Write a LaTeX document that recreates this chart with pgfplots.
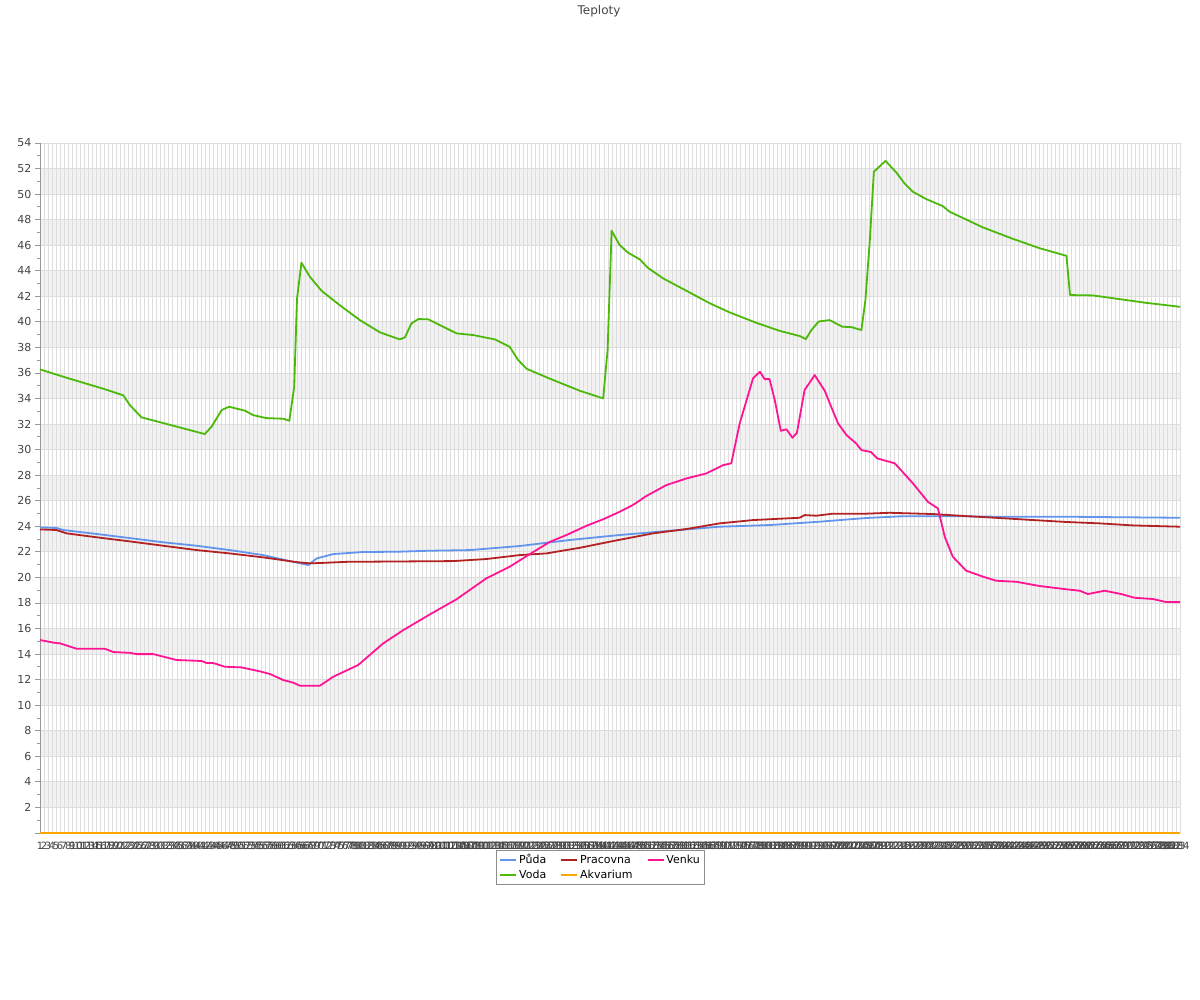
\documentclass[border=0pt]{standalone}
\usepackage{fontspec}
\setmainfont{DejaVu Sans}
\usepackage{pgfplots}
\pgfplotsset{compat=1.18}
\definecolor{cPuda}{HTML}{6495ED}
\definecolor{cVoda}{HTML}{4CB80A}
\definecolor{cPrac}{HTML}{B22222}
\definecolor{cAkv}{HTML}{FFA500}
\definecolor{cVenku}{HTML}{FF1493}
\definecolor{band}{HTML}{F2F2F2}
\definecolor{gridc}{HTML}{DDDDDD}
\definecolor{txt}{HTML}{444444}
\begin{document}
\begin{tikzpicture}
\begin{axis}[
  at={(0pt,0pt)}, anchor=south west,
  scale only axis, width=1140pt, height=690pt,
  set layers, clip=false,
  xmin=1, xmax=284, ymin=0, ymax=54,
  axis lines=left, axis line style={-, draw=gray!80},
  xtick={1,...,284},
  xticklabel={\pgfmathprintnumber{\tick}},
  x tick label style={font=\fontsize{10}{12}\selectfont, text=txt, yshift=-1pt},
  xtick style={draw=none},
  ytick={2,4,...,54},
  extra y ticks={0}, extra y tick labels={},
  extra y tick style={grid=none},
  minor ytick={1,3,...,53},
  y tick label style={font=\fontsize{11}{13}\selectfont, text=txt},
  /pgf/number format/assume math mode=true,
  tick align=outside,
  major tick length=5pt, minor tick length=3pt,
  ytick style={draw=gray!80, line width=0.8pt},
  xmajorgrids, ymajorgrids,
  major grid style={draw=gridc, line width=0.9pt},
  legend columns=3,
  legend cell align=left,
  legend style={at={(axis description cs:0.4917,-0.0246)}, anchor=north,
    draw=gray!90, line width=0.8pt, fill=white,
    font=\fontsize{11}{13}\selectfont, text=black,
    inner xsep=3pt, inner ysep=2pt, row sep=1pt,
    /tikz/every even column/.append style={column sep=12pt}},
  legend image code/.code={\draw[#1, line width=2pt] (0pt,0pt) -- (12pt,0pt); \path (0pt,0pt) -- (16pt,0pt);},
  every axis plot/.append style={line width=1.8pt, line join=round},
]
\begin{pgfonlayer}{axis background}
\fill[band] (axis cs:1,2) rectangle (axis cs:284,4);
\fill[band] (axis cs:1,6) rectangle (axis cs:284,8);
\fill[band] (axis cs:1,10) rectangle (axis cs:284,12);
\fill[band] (axis cs:1,14) rectangle (axis cs:284,16);
\fill[band] (axis cs:1,18) rectangle (axis cs:284,20);
\fill[band] (axis cs:1,22) rectangle (axis cs:284,24);
\fill[band] (axis cs:1,26) rectangle (axis cs:284,28);
\fill[band] (axis cs:1,30) rectangle (axis cs:284,32);
\fill[band] (axis cs:1,34) rectangle (axis cs:284,36);
\fill[band] (axis cs:1,38) rectangle (axis cs:284,40);
\fill[band] (axis cs:1,42) rectangle (axis cs:284,44);
\fill[band] (axis cs:1,46) rectangle (axis cs:284,48);
\fill[band] (axis cs:1,50) rectangle (axis cs:284,52);
\end{pgfonlayer}

% Puda
\addplot[cPuda] coordinates {
(1,23.92) (5.1,23.87) (6.8,23.71) (15.1,23.4) (23.3,23.08) (31.6,22.75)
(39.9,22.48) (48.1,22.14) (56.4,21.75) (63,21.28) (67.6,20.97) (69.7,21.49)
(73.8,21.83) (81.2,21.99) (89.5,22.01) (97.8,22.09) (107.7,22.14) (120.1,22.46)
(132.5,22.93) (144.9,23.32) (157.3,23.65) (169.7,23.97) (182.1,24.1) (194.5,24.36)
(202,24.55) (206.1,24.65) (214.4,24.78) (226.8,24.8) (239.2,24.75) (255.8,24.75) (284,24.67)
};
\addlegendentry{Půda}
% Pracovna
\addplot[cPrac] coordinates {
(1,23.76) (5.1,23.71) (7.6,23.45) (15.1,23.14) (23.3,22.82) (31.6,22.48)
(39.9,22.14) (48.1,21.88) (56.4,21.57) (64.7,21.2) (68,21.1) (71.3,21.14)
(77.1,21.22) (103.6,21.28) (111.8,21.44) (120.1,21.75) (126.7,21.88) (135,22.32)
(143.3,22.85) (153.2,23.45) (161.5,23.79) (169.7,24.23) (178,24.49) (186.3,24.62)
(189.6,24.67) (190.8,24.88) (193.7,24.83) (197.8,24.99) (206.1,24.99) (211.9,25.06)
(222.7,24.96) (230.9,24.8) (239.2,24.65) (247.5,24.49) (255.8,24.34) (264.1,24.23)
(272.4,24.07) (284,23.97)
};
\addlegendentry{Pracovna}
% Venku
\addplot[cVenku] coordinates {
(1,15.1) (4.3,14.9) (6,14.84) (10.1,14.42) (17.1,14.42) (19.2,14.16) (23.3,14.1)
(25,14.0) (29.1,14.0) (34.9,13.54) (41.1,13.46) (42.4,13.3) (44,13.3) (46.9,13.01)
(51,12.96) (55.6,12.65) (58.1,12.44) (61.4,11.97) (63.9,11.76) (65.5,11.53)
(70.5,11.53) (73.8,12.23) (80,13.15) (86.2,14.84) (91.2,15.88) (97.8,17.11)
(104.4,18.29) (111.8,19.93) (117.6,20.84) (122.6,21.83) (127.6,22.79) (131.7,23.32)
(136.7,24.05) (140.8,24.55) (144.9,25.14) (148.2,25.67) (151.5,26.37) (156.5,27.23)
(161.5,27.75) (166.4,28.14) (170.6,28.79) (172.6,28.93) (174.7,32.06) (178,35.58)
(179.7,36.1) (180.9,35.52) (182.1,35.52) (183.4,33.88) (184.9,31.48) (186.3,31.59)
(187.8,30.93) (188.9,31.32) (190.8,34.66) (193.3,35.84) (195.8,34.61) (197.4,33.36)
(199.1,32.06) (201.2,31.14) (203.6,30.49) (204.9,29.97) (207.3,29.81) (208.8,29.32)
(213.2,28.93) (217.7,27.36) (221.4,25.92) (223.9,25.4) (225.6,23.18) (227.6,21.62)
(230.9,20.53) (235.1,20.06) (238.4,19.74) (243.4,19.66) (249.1,19.33) (255.8,19.07)
(259.1,18.96) (261.1,18.7) (265.3,18.96) (269.4,18.7) (272.7,18.41) (277.3,18.31)
(280.6,18.07) (284,18.07)
};
\addlegendentry{Venku}
% Voda
\addplot[cVoda] coordinates {
(1,36.28) (8.4,35.55) (16.7,34.77) (21.7,34.25) (23.3,33.49) (26.2,32.53)
(41.9,31.22) (43.6,31.8) (46.1,33.1) (47.9,33.36) (51.9,33.05) (53.9,32.7)
(57.2,32.47) (61.4,32.42) (62.9,32.26) (64.1,34.92) (64.8,41.8) (65.9,44.63)
(68,43.53) (70.9,42.43) (75.4,41.31) (80.4,40.14) (85.4,39.18) (90.3,38.63)
(91.6,38.79) (93.2,39.88) (94.9,40.22) (97.4,40.2) (104.4,39.1) (108.5,38.97)
(113.9,38.63) (117.6,38.05) (119.7,37.01) (121.8,36.33) (127.6,35.55) (135,34.61)
(140.8,34.01) (141.9,37.8) (142.9,47.13) (144.9,46.01) (147,45.41) (149.9,44.89)
(151.9,44.23) (155.7,43.4) (161.5,42.43) (167.3,41.45) (172.2,40.74) (178.8,39.93)
(184.6,39.3) (189.6,38.89) (191.1,38.65) (192.5,39.36) (194.3,40.03) (197,40.14)
(200.2,39.62) (202.4,39.59) (204.9,39.36) (205.9,41.71) (207,46.4) (208,51.75)
(210.9,52.6) (213.6,51.68) (215.6,50.84) (217.7,50.18) (221,49.61) (225.1,49.06)
(226.8,48.62) (235.1,47.39) (242.5,46.5) (249.1,45.77) (255.8,45.17) (256.7,42.1)
(262.4,42.07) (269,41.78) (275.6,41.49) (284,41.18)
};
\addlegendentry{Voda}
% Akvarium
\addplot[cAkv] coordinates {(1,0) (284,0)};
\addlegendentry{Akvarium}
\end{axis}
\node[font=\fontsize{12}{14}\selectfont, text=txt] at (559pt,822pt) {Teploty};
\pgfresetboundingbox
\path[use as bounding box] (-40pt,-167pt) rectangle (1160pt,833pt);
\end{tikzpicture}
\end{document}
